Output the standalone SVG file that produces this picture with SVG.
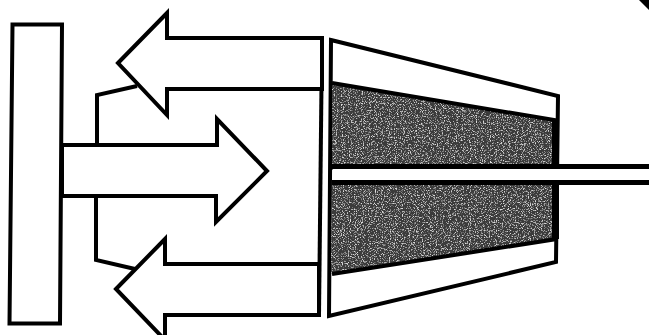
<svg xmlns="http://www.w3.org/2000/svg" width="649" height="335" viewBox="0 0 649 335">
<style>
.o{fill:#fff;stroke:#000;stroke-width:4;stroke-linejoin:miter}
.l{fill:none;stroke:#000;stroke-width:4}
.d{fill:#3a3a3a;stroke:none}
.e{fill:none;stroke:#000;stroke-width:4}
</style>
<defs>
<filter id="speck" x="0" y="0" width="100%" height="100%">
<feTurbulence type="fractalNoise" baseFrequency="0.85" numOctaves="2" seed="7" result="t"/>
<feColorMatrix in="t" type="matrix" values="0 0 0 0 0.72  0 0 0 0 0.72  0 0 0 0 0.72  3 3 0 0 -3.1" result="s"/>
<feComposite in="s" in2="SourceGraphic" operator="in" result="c"/>
<feMerge><feMergeNode in="SourceGraphic"/><feMergeNode in="c"/></feMerge>
</filter>
</defs>
<g id="connectors">
<path class="l" d="M97 146V95L137 86"/>
<path class="l" d="M96 196V260L135 269"/>
<path class="l" d="M322 38L319 315"/>
</g>
<g id="plate"><path class="o" d="M12.500 24.500H62L60 323.500H9.500Z"/></g>
<g id="arrow-top"><path class="o" d="M118 63L167 13V38H322V89H167V115Z"/></g>
<g id="arrow-center"><path class="o" d="M62 145H217V119L267 171L216 222V196H62Z"/></g>
<g id="arrow-bottom"><path class="o" d="M116 289L165 239V264H319V315H165V340Z"/></g>
<g id="cone">
<path class="o" d="M331 40L558 96L556 262L329 316Z"/>
<path class="d" filter="url(#speck)" d="M332 83L557 120.500V166H332Z"/>
<path class="d" filter="url(#speck)" d="M332 184H557V239L331 274Z"/>
<path class="e" d="M332 83L557 120.500M332 274L557 239"/>
<path class="l" style="stroke-width:7" d="M555.500 120V166M555.500 184V239"/>
</g>
<g id="shaft">
<rect x="332" y="164" width="317" height="5.500" fill="#000"/>
<rect x="332" y="180" width="317" height="5" fill="#000"/>
<rect x="333" y="169" width="316" height="11" fill="#fff"/>
</g>
<g id="corner"><path d="M639 0H649V10Z" fill="#000"/></g>
</svg>
